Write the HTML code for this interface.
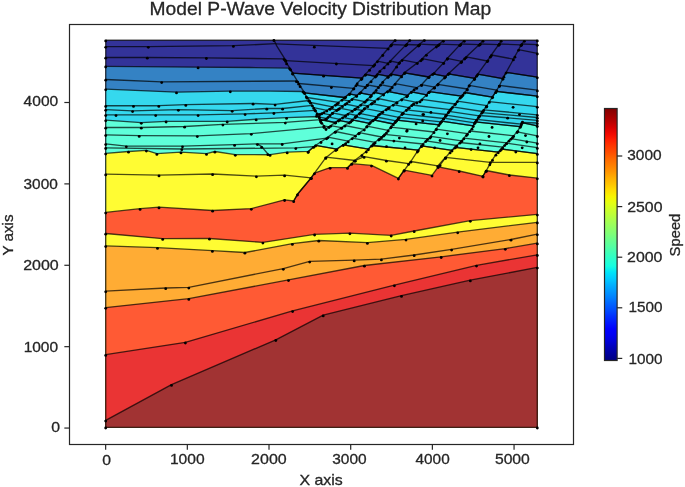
<!DOCTYPE html><html><head><meta charset="utf-8"><style>html,body{margin:0;padding:0;background:#fff;width:685px;height:487px;overflow:hidden}</style></head><body><svg width="685" height="487" viewBox="0 0 685 487" style="position:absolute;left:0;top:0"><defs><linearGradient id="jet" x1="0" y1="0" x2="0" y2="1"><stop offset="0.0000" stop-color="#800000"/><stop offset="0.0250" stop-color="#9b0000"/><stop offset="0.0500" stop-color="#b60000"/><stop offset="0.0750" stop-color="#d60000"/><stop offset="0.1000" stop-color="#f10800"/><stop offset="0.1250" stop-color="#ff1e00"/><stop offset="0.1500" stop-color="#ff3800"/><stop offset="0.1750" stop-color="#ff4e00"/><stop offset="0.2000" stop-color="#ff6800"/><stop offset="0.2250" stop-color="#ff7e00"/><stop offset="0.2500" stop-color="#ff9400"/><stop offset="0.2750" stop-color="#ffae00"/><stop offset="0.3000" stop-color="#ffc400"/><stop offset="0.3250" stop-color="#ffde00"/><stop offset="0.3500" stop-color="#f8f500"/><stop offset="0.3750" stop-color="#e4ff13"/><stop offset="0.4000" stop-color="#ceff29"/><stop offset="0.4250" stop-color="#baff3c"/><stop offset="0.4500" stop-color="#a4ff53"/><stop offset="0.4750" stop-color="#90ff66"/><stop offset="0.5000" stop-color="#7dff7a"/><stop offset="0.5250" stop-color="#66ff90"/><stop offset="0.5500" stop-color="#53ffa4"/><stop offset="0.5750" stop-color="#3cffba"/><stop offset="0.6000" stop-color="#29ffce"/><stop offset="0.6250" stop-color="#16ffe1"/><stop offset="0.6500" stop-color="#00e4f8"/><stop offset="0.6750" stop-color="#00ccff"/><stop offset="0.7000" stop-color="#00b0ff"/><stop offset="0.7250" stop-color="#0098ff"/><stop offset="0.7500" stop-color="#0080ff"/><stop offset="0.7750" stop-color="#0064ff"/><stop offset="0.8000" stop-color="#004cff"/><stop offset="0.8250" stop-color="#0030ff"/><stop offset="0.8500" stop-color="#0018ff"/><stop offset="0.8750" stop-color="#0000ff"/><stop offset="0.9000" stop-color="#0000f1"/><stop offset="0.9250" stop-color="#0000d6"/><stop offset="0.9500" stop-color="#0000b6"/><stop offset="0.9750" stop-color="#00009b"/><stop offset="1.0000" stop-color="#000080"/></linearGradient></defs><g transform="translate(0,-0.7)"><polygon points="105.7,40.9 537.3,40.9 537.3,428.0 105.7,428.0" fill="#333399"/><polygon points="105.7,67.0 198.1,67.9 250.0,68.2 289.6,68.8 292.7,73.9 362.0,78.8 365.4,75.1 375.4,77.1 377.3,74.8 388.4,77.0 391.1,74.8 401.6,76.9 404.6,73.5 428.7,77.7 432.8,74.6 445.6,77.1 448.3,74.5 474.8,79.0 477.7,74.8 502.9,79.3 506.1,73.1 537.3,77.8 537.3,428.0 105.7,428.0" fill="#3482c4"/><polygon points="105.7,89.8 176.5,92.9 230.3,91.8 270.0,91.8 303.2,92.2 304.5,93.5 344.5,98.2 349.3,94.6 356.8,96.1 359.8,93.6 371.4,95.9 374.0,93.1 383.6,95.0 387.5,92.0 407.6,96.1 411.4,92.5 426.6,95.5 429.3,92.3 461.5,96.9 464.6,93.2 492.3,97.8 496.1,92.1 537.3,96.8 537.3,428.0 105.7,428.0" fill="#35d8ee"/><polygon points="105.7,120.8 141.3,123.3 166.1,122.0 227.2,122.0 256.2,119.9 286.6,118.4 319.2,117.2 320.3,120.3 335.2,123.2 338.5,121.0 349.2,123.1 352.2,120.6 369.4,124.0 373.3,120.6 393.4,124.7 396.6,120.9 438.9,125.6 441.5,121.9 473.3,126.5 475.2,122.6 520.2,127.4 521.9,123.4 537.3,126.5 537.3,428.0 105.7,428.0" fill="#5fffda"/><polygon points="105.7,154.1 128.5,152.2 146.4,151.1 156.9,154.4 181.0,152.9 206.5,154.4 214.9,152.2 235.3,155.3 270.1,155.4 287.2,152.9 308.3,152.1 315.6,146.0 336.9,149.8 343.2,145.5 368.4,149.8 371.7,146.2 418.3,150.8 421.6,146.5 452.0,151.0 454.9,148.1 498.3,152.8 501.3,149.7 537.3,154.4 537.3,428.0 105.7,428.0" fill="#fffc33"/><polygon points="105.7,213.1 140.1,209.4 159.0,207.9 212.6,211.2 251.3,209.3 284.6,200.5 293.7,201.7 297.5,195.0 311.2,178.6 314.5,173.8 330.1,168.3 347.5,168.4 351.7,164.4 371.5,166.1 398.4,179.1 404.1,170.8 432.0,176.1 438.2,167.5 459.2,171.7 483.0,177.0 486.1,171.2 509.4,175.7 537.3,178.8 537.3,428.0 105.7,428.0" fill="#ff5a34"/><polygon points="105.7,234.2 162.7,239.4 209.5,239.2 262.9,243.1 314.6,235.0 349.9,233.8 391.2,236.0 414.2,231.7 470.3,221.3 537.3,215.1 537.3,428.0 105.7,428.0" fill="#fffc33"/><polygon points="105.7,246.6 157.5,248.4 212.4,251.4 244.9,253.2 292.4,244.4 318.8,241.2 367.4,243.4 406.0,240.1 457.7,232.8 537.3,223.0 537.3,428.0 105.7,428.0" fill="#ffac34"/><polygon points="105.7,308.3 188.8,299.4 288.5,280.6 364.4,266.2 441.2,257.5 505.3,249.3 537.3,243.9 537.3,428.0 105.7,428.0" fill="#ff5a34"/><polygon points="105.7,355.4 185.4,343.0 292.6,311.6 394.4,285.8 476.5,266.1 537.3,255.5 537.3,428.0 105.7,428.0" fill="#ea3434"/><polygon points="105.7,421.1 171.5,385.4 275.8,340.5 323.2,315.9 401.5,296.4 470.3,280.9 537.3,268.1 537.3,428.0 105.7,428.0" fill="#a13333"/><g fill="none" stroke="#000" stroke-opacity="0.7" stroke-width="1.35" stroke-linejoin="round"><polyline points="105.7,40.9 537.3,40.9"/><polyline points="105.7,67.0 198.1,67.9 250.0,68.2 289.6,68.8 292.7,73.9 362.0,78.8 365.4,75.1 375.4,77.1 377.3,74.8 388.4,77.0 391.1,74.8 401.6,76.9 404.6,73.5 428.7,77.7 432.8,74.6 445.6,77.1 448.3,74.5 474.8,79.0 477.7,74.8 502.9,79.3 506.1,73.1 537.3,77.8"/><polyline points="105.7,89.8 176.5,92.9 230.3,91.8 270.0,91.8 303.2,92.2 304.5,93.5 344.5,98.2 349.3,94.6 356.8,96.1 359.8,93.6 371.4,95.9 374.0,93.1 383.6,95.0 387.5,92.0 407.6,96.1 411.4,92.5 426.6,95.5 429.3,92.3 461.5,96.9 464.6,93.2 492.3,97.8 496.1,92.1 537.3,96.8"/><polyline points="105.7,120.8 141.3,123.3 166.1,122.0 227.2,122.0 256.2,119.9 286.6,118.4 319.2,117.2 320.3,120.3 335.2,123.2 338.5,121.0 349.2,123.1 352.2,120.6 369.4,124.0 373.3,120.6 393.4,124.7 396.6,120.9 438.9,125.6 441.5,121.9 473.3,126.5 475.2,122.6 520.2,127.4 521.9,123.4 537.3,126.5"/><polyline points="105.7,154.1 128.5,152.2 146.4,151.1 156.9,154.4 181.0,152.9 206.5,154.4 214.9,152.2 235.3,155.3 270.1,155.4 287.2,152.9 308.3,152.1 315.6,146.0 336.9,149.8 343.2,145.5 368.4,149.8 371.7,146.2 418.3,150.8 421.6,146.5 452.0,151.0 454.9,148.1 498.3,152.8 501.3,149.7 537.3,154.4"/><polyline points="105.7,213.1 140.1,209.4 159.0,207.9 212.6,211.2 251.3,209.3 284.6,200.5 293.7,201.7 297.5,195.0 311.2,178.6 314.5,173.8 330.1,168.3 347.5,168.4 351.7,164.4 371.5,166.1 398.4,179.1 404.1,170.8 432.0,176.1 438.2,167.5 459.2,171.7 483.0,177.0 486.1,171.2 509.4,175.7 537.3,178.8"/><polyline points="105.7,234.2 162.7,239.4 209.5,239.2 262.9,243.1 314.6,235.0 349.9,233.8 391.2,236.0 414.2,231.7 470.3,221.3 537.3,215.1"/><polyline points="105.7,246.6 157.5,248.4 212.4,251.4 244.9,253.2 292.4,244.4 318.8,241.2 367.4,243.4 406.0,240.1 457.7,232.8 537.3,223.0"/><polyline points="105.7,308.3 188.8,299.4 288.5,280.6 364.4,266.2 441.2,257.5 505.3,249.3 537.3,243.9"/><polyline points="105.7,355.4 185.4,343.0 292.6,311.6 394.4,285.8 476.5,266.1 537.3,255.5"/><polyline points="105.7,421.1 171.5,385.4 275.8,340.5 323.2,315.9 401.5,296.4 470.3,280.9 537.3,268.1"/><polyline points="105.7,291.8 165.7,288.7 188.8,288.1 283.3,269.3 309.7,262.1 354.2,260.9 381.4,259.9 414.2,255.7 451.6,250.1 511.0,240.2 537.3,234.8"/><polyline points="105.7,174.9 159.0,175.9 212.6,174.7 256.4,176.8 284.6,175.9 311.2,178.5"/><polyline points="325.8,157.8 355.3,161.2 364.1,157.4 386.4,161.2 408.6,164.4 410.8,162.2 437.8,166.6 445.5,158.0 490.3,163.0 537.3,163.0"/><polyline points="105.7,47.3 148.3,47.3 233.4,46.4 275.5,44.4"/><polyline points="105.7,58.2 147.3,58.2 206.4,58.5 284.1,59.6"/><polyline points="105.7,80.2 161.7,82.6 296.4,81.7"/><polyline points="105.7,106.4 133.5,106.4 158.8,106.4 185.8,105.4 253.1,104.2 275.1,105.1 309.0,101.2"/><polyline points="105.7,110.3 132.6,111.6 178.4,110.3 232.2,111.3 266.8,109.2 282.6,109.2 312.4,106.1"/><polyline points="105.7,115.6 116.0,115.6 155.7,115.6 198.1,115.6 245.1,114.6 273.9,113.5 315.5,111.0"/><polyline points="105.7,128.2 141.3,128.2 184.6,127.2 222.9,125.1 285.3,123.1 321.0,120.3"/><polyline points="105.7,135.6 139.2,136.4 197.3,136.6 251.3,134.3 324.0,127.6"/><polyline points="105.7,144.6 126.3,146.8 182.5,146.8 234.6,145.4 257.4,144.6 282.2,144.5 326.6,138.8"/><polyline points="257.4,144.6 261.7,147.3 267.9,154.7"/><polyline points="105.7,148.5 181.8,149.7 295.8,148.6 313.6,147.4"/><polyline points="273.9,40.5 276.7,46.6 285.3,60.4 286.6,63.9 290.6,70.0 292.7,74.0 297.6,82.1 300.1,86.7 304.2,92.8 306.3,97.1 309.4,101.2 312.4,106.1 314.9,110.4 319.2,117.8 321.7,123.3 326.0,129.6"/><polyline points="395.2,40.6 390.8,46.0 382.8,55.5 374.7,65.0 369.6,70.4 365.3,75.2 361.3,79.6 357.2,84.0 353.9,88.8 349.9,94.2 345.6,97.4 337.0,104.2 330.2,109.1 324.0,112.8 316.5,116.3"/><polyline points="409.8,40.6 406.9,44.6 384.2,67.9 379.9,71.6 376.2,76.2 371.1,81.8 367.4,85.4 360.9,92.7 356.5,96.4 346.8,103.6 338.2,109.7 332.6,113.4 325.9,119.6 320.5,121.8"/><polyline points="424.4,40.6 418.5,46.0 399.6,62.8 396.6,67.2 390.8,75.2 387.9,77.4 382.8,82.5 376.2,90.6 370.4,97.1 365.4,101.8 355.5,109.2 345.7,116.0 335.8,122.8 326.0,129.6"/><polyline points="443.4,41.3 436.4,47.1 426.4,55.3 420.9,60.8 405.0,73.0 390.2,90.0 372.3,103.6 364.3,109.1 360.5,112.9 355.5,117.3 350.6,122.2 342.0,128.1 335.2,132.3 326.6,138.8 321.0,142.5 313.6,147.4 308.1,152.4"/><polyline points="464.3,41.3 460.1,45.3 447.4,59.0 443.7,63.5 434.2,73.6 429.1,77.2 421.5,85.4 414.2,90.0 406.8,96.8 397.0,102.9 388.3,108.5 382.8,112.2 378.5,115.3 375.4,119.0 370.5,122.7 366.8,127.0 364.3,130.1 358.6,133.9 345.7,143.8 335.8,150.5 325.8,158.4 314.5,173.8 311.0,178.7 297.5,195.0 293.7,201.7"/><polyline points="483.0,41.3 480.2,44.4 464.7,59.0 461.1,62.6 449.2,73.6 444.6,78.1 438.2,84.5 434.2,88.2 428.8,92.7 426.6,95.5 420.0,101.9 413.6,104.2 409.3,107.9 402.5,114.0 398.2,119.0 395.1,122.7 391.4,127.0 386.5,133.1 383.4,136.2 379.7,139.3 373.6,144.2 366.3,152.0 361.9,155.7 354.6,161.2 347.5,168.4"/><polyline points="501.2,41.3 499.4,44.4 490.3,57.2 487.9,60.8 476.6,76.3 474.4,79.6 469.3,85.8 467.1,90.0 462.9,95.5 460.1,98.2 455.6,104.1 451.0,109.2 448.3,112.8 445.5,116.5 440.1,123.7 436.4,129.4 430.0,138.1 427.6,139.6 421.8,146.2 417.4,152.0 410.8,162.2 404.2,171.0 398.4,179.1"/><polyline points="524.4,41.3 521.3,45.3 514.9,57.2 503.9,77.2 499.4,86.4 495.7,92.7 492.6,97.3 486.3,107.2 482.9,111.6 478.5,117.7 475.0,122.9 472.0,129.2 466.5,135.6 462.0,141.1 455.6,147.4 450.1,152.9 445.5,158.4 440.1,165.7 438.2,167.5"/><polyline points="522.5,122.1 520.7,126.4 517.8,131.6 512.5,137.8 509.0,141.2 504.7,145.6 500.3,150.8 495.9,155.2 492.5,160.4 489.8,164.8 486.3,171.4 482.9,176.7"/><polyline points="275.8,44.6 388.2,49.1"/><polyline points="391.4,45.2 405.7,45.8"/><polyline points="406.3,45.2 418.9,45.7"/><polyline points="419.6,44.9 438.1,45.7"/><polyline points="439.2,44.8 459.8,45.6"/><polyline points="460.7,44.7 479.1,45.4"/><polyline points="479.9,44.7 498.7,45.4"/><polyline points="499.2,44.7 521.1,45.6"/><polyline points="521.8,44.7 537.3,45.3"/><polyline points="285.7,61.4 373.5,66.3"/><polyline points="377.4,61.8 388.0,64.0"/><polyline points="390.3,61.7 399.1,63.5"/><polyline points="402.1,60.6 417.3,63.6"/><polyline points="422.3,59.4 443.7,63.5"/><polyline points="447.3,59.1 461.7,62.0"/><polyline points="466.2,57.6 487.3,61.7"/><polyline points="491.4,55.7 513.4,59.9"/><polyline points="518.6,50.3 537.3,54.0"/><polyline points="292.7,73.9 362.0,78.8"/><polyline points="365.4,75.1 375.4,77.1"/><polyline points="377.3,74.8 388.4,77.0"/><polyline points="391.1,74.8 401.6,76.9"/><polyline points="404.6,73.5 428.7,77.7"/><polyline points="432.8,74.6 445.6,77.1"/><polyline points="448.3,74.5 474.8,79.0"/><polyline points="477.7,74.8 502.9,79.3"/><polyline points="506.1,73.1 537.3,77.8"/><polyline points="298.7,84.2 353.7,89.1"/><polyline points="356.0,85.8 365.4,87.7"/><polyline points="367.3,85.5 378.5,87.7"/><polyline points="380.5,85.3 392.2,87.7"/><polyline points="395.1,84.4 416.7,88.4"/><polyline points="421.6,85.3 434.6,87.9"/><polyline points="437.6,85.1 467.3,89.7"/><polyline points="469.1,86.1 496.8,90.8"/><polyline points="499.5,86.1 537.3,90.9"/><polyline points="304.5,93.5 344.5,98.2"/><polyline points="349.3,94.6 356.8,96.1"/><polyline points="359.8,93.6 371.4,95.9"/><polyline points="374.0,93.1 383.6,95.0"/><polyline points="387.5,92.0 407.6,96.1"/><polyline points="411.4,92.5 426.6,95.5"/><polyline points="429.3,92.3 461.5,96.9"/><polyline points="464.6,93.2 492.3,97.8"/><polyline points="496.1,92.1 537.3,96.8"/><polyline points="307.1,98.2 338.4,103.1"/><polyline points="342.0,100.3 349.3,101.7"/><polyline points="352.0,99.7 364.7,102.3"/><polyline points="367.1,100.2 374.7,101.8"/><polyline points="378.0,99.2 396.8,103.0"/><polyline points="401.7,100.0 416.9,103.0"/><polyline points="421.8,100.1 455.0,104.7"/><polyline points="457.4,101.8 486.8,106.4"/><polyline points="489.3,102.4 537.3,107.3"/><polyline points="310.6,103.2 332.4,107.5"/><polyline points="335.5,105.3 342.5,106.7"/><polyline points="345.2,104.7 358.1,107.3"/><polyline points="360.7,105.3 367.8,106.7"/><polyline points="371.4,104.2 389.3,107.8"/><polyline points="393.2,105.3 408.7,108.4"/><polyline points="411.8,105.7 450.1,110.4"/><polyline points="452.5,107.6 482.5,112.2"/><polyline points="483.7,110.5 537.3,115.5"/><polyline points="313.7,108.4 326.9,111.1"/><polyline points="329.8,109.3 336.7,110.7"/><polyline points="339.4,108.9 352.3,111.4"/><polyline points="354.7,109.7 362.2,111.2"/><polyline points="364.4,109.0 382.3,112.6"/><polyline points="386.2,109.9 403.3,113.3"/><polyline points="406.4,110.5 446.5,115.2"/><polyline points="448.9,112.0 479.3,116.6"/><polyline points="481.7,113.3 537.3,118.2"/><polyline points="317.1,114.2 319.8,114.7"/><polyline points="321.7,113.9 330.2,115.6"/><polyline points="332.3,113.6 345.3,116.2"/><polyline points="347.9,114.4 356.7,116.2"/><polyline points="359.3,114.0 376.7,117.5"/><polyline points="379.9,114.3 398.9,118.1"/><polyline points="402.0,114.5 443.5,119.2"/><polyline points="446.0,115.9 476.6,120.5"/><polyline points="479.6,116.2 537.3,121.0"/><polyline points="319.2,117.8 326.3,119.2"/><polyline points="328.0,117.6 339.9,120.0"/><polyline points="342.6,118.1 352.7,120.1"/><polyline points="355.3,117.5 372.7,121.0"/><polyline points="376.5,117.7 396.0,121.6"/><polyline points="399.1,118.0 440.9,122.6"/><polyline points="443.7,118.9 474.7,123.6"/><polyline points="476.9,120.1 521.3,124.9"/><polyline points="522.0,123.2 537.3,123.7"/><polyline points="320.3,120.3 335.2,123.2"/><polyline points="338.5,121.0 349.2,123.1"/><polyline points="352.2,120.6 369.4,124.0"/><polyline points="373.3,120.6 393.4,124.7"/><polyline points="396.6,120.9 438.9,125.6"/><polyline points="441.5,121.9 473.3,126.5"/><polyline points="475.2,122.6 520.2,127.4"/><polyline points="521.9,123.4 537.3,126.5"/><polyline points="323.9,126.5 329.0,127.5"/><polyline points="330.7,126.3 341.4,128.4"/><polyline points="344.8,126.2 364.3,130.1"/><polyline points="367.0,126.8 388.2,131.0"/><polyline points="390.7,127.9 434.0,132.7"/><polyline points="436.1,129.8 467.5,134.4"/><polyline points="469.8,131.7 513.6,136.5"/><polyline points="517.1,132.5 537.3,136.5"/><polyline points="335.3,132.2 355.5,136.3"/><polyline points="359.3,133.4 381.6,137.7"/><polyline points="384.6,135.0 427.6,139.6"/><polyline points="430.8,137.0 461.5,141.6"/><polyline points="463.8,138.9 506.6,143.6"/><polyline points="510.9,139.3 537.3,143.8"/><polyline points="327.9,137.8 348.2,141.9"/><polyline points="352.2,138.8 375.1,143.0"/><polyline points="378.8,140.0 423.1,144.7"/><polyline points="425.8,141.6 456.8,146.2"/><polyline points="459.9,143.2 502.7,147.9"/><polyline points="506.5,143.8 537.3,148.4"/><polyline points="315.6,146.0 336.9,149.8"/><polyline points="343.2,145.5 368.4,149.8"/><polyline points="371.7,146.2 418.3,150.8"/><polyline points="421.6,146.5 452.0,151.0"/><polyline points="454.9,148.1 498.3,152.8"/><polyline points="501.3,149.7 537.3,154.4"/><polyline points="105.7,428.0 537.3,428.0"/><polyline points="105.7,40.9 105.7,428.0"/><polyline points="537.3,40.9 537.3,428.0"/></g></g><g fill="#000"><circle cx="105.7" cy="40.9" r="1.42"/><circle cx="537.3" cy="40.9" r="1.42"/><circle cx="105.7" cy="67.0" r="1.42"/><circle cx="198.1" cy="67.9" r="1.42"/><circle cx="289.6" cy="68.8" r="1.42"/><circle cx="292.7" cy="73.9" r="1.42"/><circle cx="362.0" cy="78.8" r="1.42"/><circle cx="365.4" cy="75.1" r="1.42"/><circle cx="375.4" cy="77.1" r="1.42"/><circle cx="377.3" cy="74.8" r="1.42"/><circle cx="388.4" cy="77.0" r="1.42"/><circle cx="391.1" cy="74.8" r="1.42"/><circle cx="401.6" cy="76.9" r="1.42"/><circle cx="404.6" cy="73.5" r="1.42"/><circle cx="428.7" cy="77.7" r="1.42"/><circle cx="432.8" cy="74.6" r="1.42"/><circle cx="445.6" cy="77.1" r="1.42"/><circle cx="448.3" cy="74.5" r="1.42"/><circle cx="474.8" cy="79.0" r="1.42"/><circle cx="477.7" cy="74.8" r="1.42"/><circle cx="502.9" cy="79.3" r="1.42"/><circle cx="506.1" cy="73.1" r="1.42"/><circle cx="537.3" cy="77.8" r="1.42"/><circle cx="105.7" cy="89.8" r="1.42"/><circle cx="176.5" cy="92.9" r="1.42"/><circle cx="230.3" cy="91.8" r="1.42"/><circle cx="303.2" cy="92.2" r="1.42"/><circle cx="304.5" cy="93.5" r="1.42"/><circle cx="344.5" cy="98.2" r="1.42"/><circle cx="349.3" cy="94.6" r="1.42"/><circle cx="356.8" cy="96.1" r="1.42"/><circle cx="359.8" cy="93.6" r="1.42"/><circle cx="371.4" cy="95.9" r="1.42"/><circle cx="374.0" cy="93.1" r="1.42"/><circle cx="383.6" cy="95.0" r="1.42"/><circle cx="387.5" cy="92.0" r="1.42"/><circle cx="407.6" cy="96.1" r="1.42"/><circle cx="411.4" cy="92.5" r="1.42"/><circle cx="426.6" cy="95.5" r="1.42"/><circle cx="429.3" cy="92.3" r="1.42"/><circle cx="461.5" cy="96.9" r="1.42"/><circle cx="464.6" cy="93.2" r="1.42"/><circle cx="492.3" cy="97.8" r="1.42"/><circle cx="496.1" cy="92.1" r="1.42"/><circle cx="537.3" cy="96.8" r="1.42"/><circle cx="105.7" cy="120.8" r="1.42"/><circle cx="141.3" cy="123.3" r="1.42"/><circle cx="166.1" cy="122.0" r="1.42"/><circle cx="227.2" cy="122.0" r="1.42"/><circle cx="256.2" cy="119.9" r="1.42"/><circle cx="286.6" cy="118.4" r="1.42"/><circle cx="319.2" cy="117.2" r="1.42"/><circle cx="320.3" cy="120.3" r="1.42"/><circle cx="335.2" cy="123.2" r="1.42"/><circle cx="338.5" cy="121.0" r="1.42"/><circle cx="349.2" cy="123.1" r="1.42"/><circle cx="352.2" cy="120.6" r="1.42"/><circle cx="369.4" cy="124.0" r="1.42"/><circle cx="373.3" cy="120.6" r="1.42"/><circle cx="393.4" cy="124.7" r="1.42"/><circle cx="396.6" cy="120.9" r="1.42"/><circle cx="438.9" cy="125.6" r="1.42"/><circle cx="441.5" cy="121.9" r="1.42"/><circle cx="473.3" cy="126.5" r="1.42"/><circle cx="475.2" cy="122.6" r="1.42"/><circle cx="520.2" cy="127.4" r="1.42"/><circle cx="521.9" cy="123.4" r="1.42"/><circle cx="537.3" cy="126.5" r="1.42"/><circle cx="105.7" cy="154.1" r="1.42"/><circle cx="128.5" cy="152.2" r="1.42"/><circle cx="146.4" cy="151.1" r="1.42"/><circle cx="156.9" cy="154.4" r="1.42"/><circle cx="181.0" cy="152.9" r="1.42"/><circle cx="206.5" cy="154.4" r="1.42"/><circle cx="214.9" cy="152.2" r="1.42"/><circle cx="235.3" cy="155.3" r="1.42"/><circle cx="270.1" cy="155.4" r="1.42"/><circle cx="287.2" cy="152.9" r="1.42"/><circle cx="308.3" cy="152.1" r="1.42"/><circle cx="315.6" cy="146.0" r="1.42"/><circle cx="336.9" cy="149.8" r="1.42"/><circle cx="343.2" cy="145.5" r="1.42"/><circle cx="368.4" cy="149.8" r="1.42"/><circle cx="371.7" cy="146.2" r="1.42"/><circle cx="418.3" cy="150.8" r="1.42"/><circle cx="421.6" cy="146.5" r="1.42"/><circle cx="452.0" cy="151.0" r="1.42"/><circle cx="454.9" cy="148.1" r="1.42"/><circle cx="498.3" cy="152.8" r="1.42"/><circle cx="501.3" cy="149.7" r="1.42"/><circle cx="537.3" cy="154.4" r="1.42"/><circle cx="105.7" cy="213.1" r="1.42"/><circle cx="140.1" cy="209.4" r="1.42"/><circle cx="159.0" cy="207.9" r="1.42"/><circle cx="212.6" cy="211.2" r="1.42"/><circle cx="251.3" cy="209.3" r="1.42"/><circle cx="284.6" cy="200.5" r="1.42"/><circle cx="293.7" cy="201.7" r="1.42"/><circle cx="297.5" cy="195.0" r="1.42"/><circle cx="311.2" cy="178.6" r="1.42"/><circle cx="314.5" cy="173.8" r="1.42"/><circle cx="330.1" cy="168.3" r="1.42"/><circle cx="347.5" cy="168.4" r="1.42"/><circle cx="351.7" cy="164.4" r="1.42"/><circle cx="371.5" cy="166.1" r="1.42"/><circle cx="398.4" cy="179.1" r="1.42"/><circle cx="404.1" cy="170.8" r="1.42"/><circle cx="432.0" cy="176.1" r="1.42"/><circle cx="438.2" cy="167.5" r="1.42"/><circle cx="459.2" cy="171.7" r="1.42"/><circle cx="483.0" cy="177.0" r="1.42"/><circle cx="486.1" cy="171.2" r="1.42"/><circle cx="509.4" cy="175.7" r="1.42"/><circle cx="537.3" cy="178.8" r="1.42"/><circle cx="105.7" cy="234.2" r="1.42"/><circle cx="162.7" cy="239.4" r="1.42"/><circle cx="209.5" cy="239.2" r="1.42"/><circle cx="262.9" cy="243.1" r="1.42"/><circle cx="314.6" cy="235.0" r="1.42"/><circle cx="349.9" cy="233.8" r="1.42"/><circle cx="391.2" cy="236.0" r="1.42"/><circle cx="414.2" cy="231.7" r="1.42"/><circle cx="470.3" cy="221.3" r="1.42"/><circle cx="537.3" cy="215.1" r="1.42"/><circle cx="105.7" cy="246.6" r="1.42"/><circle cx="157.5" cy="248.4" r="1.42"/><circle cx="212.4" cy="251.4" r="1.42"/><circle cx="244.9" cy="253.2" r="1.42"/><circle cx="292.4" cy="244.4" r="1.42"/><circle cx="318.8" cy="241.2" r="1.42"/><circle cx="367.4" cy="243.4" r="1.42"/><circle cx="406.0" cy="240.1" r="1.42"/><circle cx="457.7" cy="232.8" r="1.42"/><circle cx="537.3" cy="223.0" r="1.42"/><circle cx="105.7" cy="308.3" r="1.42"/><circle cx="188.8" cy="299.4" r="1.42"/><circle cx="288.5" cy="280.6" r="1.42"/><circle cx="364.4" cy="266.2" r="1.42"/><circle cx="441.2" cy="257.5" r="1.42"/><circle cx="505.3" cy="249.3" r="1.42"/><circle cx="537.3" cy="243.9" r="1.42"/><circle cx="105.7" cy="355.4" r="1.42"/><circle cx="185.4" cy="343.0" r="1.42"/><circle cx="292.6" cy="311.6" r="1.42"/><circle cx="394.4" cy="285.8" r="1.42"/><circle cx="476.5" cy="266.1" r="1.42"/><circle cx="537.3" cy="255.5" r="1.42"/><circle cx="105.7" cy="421.1" r="1.42"/><circle cx="171.5" cy="385.4" r="1.42"/><circle cx="275.8" cy="340.5" r="1.42"/><circle cx="323.2" cy="315.9" r="1.42"/><circle cx="401.5" cy="296.4" r="1.42"/><circle cx="470.3" cy="280.9" r="1.42"/><circle cx="537.3" cy="268.1" r="1.42"/><circle cx="105.7" cy="291.8" r="1.42"/><circle cx="165.7" cy="288.7" r="1.42"/><circle cx="188.8" cy="288.1" r="1.42"/><circle cx="283.3" cy="269.3" r="1.42"/><circle cx="309.7" cy="262.1" r="1.42"/><circle cx="354.2" cy="260.9" r="1.42"/><circle cx="381.4" cy="259.9" r="1.42"/><circle cx="414.2" cy="255.7" r="1.42"/><circle cx="451.6" cy="250.1" r="1.42"/><circle cx="511.0" cy="240.2" r="1.42"/><circle cx="537.3" cy="234.8" r="1.42"/><circle cx="105.7" cy="174.9" r="1.42"/><circle cx="159.0" cy="175.9" r="1.42"/><circle cx="212.6" cy="174.7" r="1.42"/><circle cx="256.4" cy="176.8" r="1.42"/><circle cx="284.6" cy="175.9" r="1.42"/><circle cx="311.2" cy="178.5" r="1.42"/><circle cx="325.8" cy="157.8" r="1.42"/><circle cx="355.3" cy="161.2" r="1.42"/><circle cx="364.1" cy="157.4" r="1.42"/><circle cx="386.4" cy="161.2" r="1.42"/><circle cx="408.6" cy="164.4" r="1.42"/><circle cx="410.8" cy="162.2" r="1.42"/><circle cx="437.8" cy="166.6" r="1.42"/><circle cx="445.5" cy="158.0" r="1.42"/><circle cx="490.3" cy="163.0" r="1.42"/><circle cx="537.3" cy="163.0" r="1.42"/><circle cx="105.7" cy="47.3" r="1.42"/><circle cx="148.3" cy="47.3" r="1.42"/><circle cx="233.4" cy="46.4" r="1.42"/><circle cx="105.7" cy="58.2" r="1.42"/><circle cx="147.3" cy="58.2" r="1.42"/><circle cx="206.4" cy="58.5" r="1.42"/><circle cx="284.1" cy="59.6" r="1.42"/><circle cx="105.7" cy="80.2" r="1.42"/><circle cx="161.7" cy="82.6" r="1.42"/><circle cx="296.4" cy="81.7" r="1.42"/><circle cx="105.7" cy="106.4" r="1.42"/><circle cx="133.5" cy="106.4" r="1.42"/><circle cx="158.8" cy="106.4" r="1.42"/><circle cx="185.8" cy="105.4" r="1.42"/><circle cx="253.1" cy="104.2" r="1.42"/><circle cx="275.1" cy="105.1" r="1.42"/><circle cx="309.0" cy="101.2" r="1.42"/><circle cx="105.7" cy="110.3" r="1.42"/><circle cx="132.6" cy="111.6" r="1.42"/><circle cx="178.4" cy="110.3" r="1.42"/><circle cx="232.2" cy="111.3" r="1.42"/><circle cx="266.8" cy="109.2" r="1.42"/><circle cx="282.6" cy="109.2" r="1.42"/><circle cx="312.4" cy="106.1" r="1.42"/><circle cx="105.7" cy="115.6" r="1.42"/><circle cx="116.0" cy="115.6" r="1.42"/><circle cx="155.7" cy="115.6" r="1.42"/><circle cx="198.1" cy="115.6" r="1.42"/><circle cx="245.1" cy="114.6" r="1.42"/><circle cx="273.9" cy="113.5" r="1.42"/><circle cx="315.5" cy="111.0" r="1.42"/><circle cx="105.7" cy="128.2" r="1.42"/><circle cx="141.3" cy="128.2" r="1.42"/><circle cx="184.6" cy="127.2" r="1.42"/><circle cx="222.9" cy="125.1" r="1.42"/><circle cx="285.3" cy="123.1" r="1.42"/><circle cx="321.0" cy="120.3" r="1.42"/><circle cx="105.7" cy="135.6" r="1.42"/><circle cx="139.2" cy="136.4" r="1.42"/><circle cx="197.3" cy="136.6" r="1.42"/><circle cx="251.3" cy="134.3" r="1.42"/><circle cx="324.0" cy="127.6" r="1.42"/><circle cx="105.7" cy="144.6" r="1.42"/><circle cx="126.3" cy="146.8" r="1.42"/><circle cx="182.5" cy="146.8" r="1.42"/><circle cx="234.6" cy="145.4" r="1.42"/><circle cx="257.4" cy="144.6" r="1.42"/><circle cx="282.2" cy="144.5" r="1.42"/><circle cx="326.6" cy="138.8" r="1.42"/><circle cx="261.7" cy="147.3" r="1.42"/><circle cx="267.9" cy="154.7" r="1.42"/><circle cx="105.7" cy="148.5" r="1.42"/><circle cx="181.8" cy="149.7" r="1.42"/><circle cx="295.8" cy="148.6" r="1.42"/><circle cx="313.6" cy="147.4" r="1.42"/><circle cx="273.9" cy="40.5" r="1.42"/><circle cx="285.3" cy="60.4" r="1.42"/><circle cx="286.6" cy="63.9" r="1.42"/><circle cx="290.6" cy="70.0" r="1.42"/><circle cx="292.7" cy="74.0" r="1.42"/><circle cx="297.6" cy="82.1" r="1.42"/><circle cx="300.1" cy="86.7" r="1.42"/><circle cx="304.2" cy="92.8" r="1.42"/><circle cx="306.3" cy="97.1" r="1.42"/><circle cx="309.4" cy="101.2" r="1.42"/><circle cx="314.9" cy="110.4" r="1.42"/><circle cx="319.2" cy="117.8" r="1.42"/><circle cx="321.7" cy="123.3" r="1.42"/><circle cx="326.0" cy="129.6" r="1.42"/><circle cx="395.2" cy="40.6" r="1.42"/><circle cx="390.8" cy="46.0" r="1.42"/><circle cx="382.8" cy="55.5" r="1.42"/><circle cx="374.7" cy="65.0" r="1.42"/><circle cx="369.6" cy="70.4" r="1.42"/><circle cx="365.3" cy="75.2" r="1.42"/><circle cx="361.3" cy="79.6" r="1.42"/><circle cx="357.2" cy="84.0" r="1.42"/><circle cx="353.9" cy="88.8" r="1.42"/><circle cx="349.9" cy="94.2" r="1.42"/><circle cx="345.6" cy="97.4" r="1.42"/><circle cx="337.0" cy="104.2" r="1.42"/><circle cx="330.2" cy="109.1" r="1.42"/><circle cx="324.0" cy="112.8" r="1.42"/><circle cx="316.5" cy="116.3" r="1.42"/><circle cx="409.8" cy="40.6" r="1.42"/><circle cx="406.9" cy="44.6" r="1.42"/><circle cx="384.2" cy="67.9" r="1.42"/><circle cx="379.9" cy="71.6" r="1.42"/><circle cx="376.2" cy="76.2" r="1.42"/><circle cx="371.1" cy="81.8" r="1.42"/><circle cx="367.4" cy="85.4" r="1.42"/><circle cx="360.9" cy="92.7" r="1.42"/><circle cx="356.5" cy="96.4" r="1.42"/><circle cx="346.8" cy="103.6" r="1.42"/><circle cx="338.2" cy="109.7" r="1.42"/><circle cx="332.6" cy="113.4" r="1.42"/><circle cx="325.9" cy="119.6" r="1.42"/><circle cx="320.5" cy="121.8" r="1.42"/><circle cx="424.4" cy="40.6" r="1.42"/><circle cx="418.5" cy="46.0" r="1.42"/><circle cx="399.6" cy="62.8" r="1.42"/><circle cx="396.6" cy="67.2" r="1.42"/><circle cx="390.8" cy="75.2" r="1.42"/><circle cx="387.9" cy="77.4" r="1.42"/><circle cx="382.8" cy="82.5" r="1.42"/><circle cx="376.2" cy="90.6" r="1.42"/><circle cx="370.4" cy="97.1" r="1.42"/><circle cx="365.4" cy="101.8" r="1.42"/><circle cx="355.5" cy="109.2" r="1.42"/><circle cx="345.7" cy="116.0" r="1.42"/><circle cx="335.8" cy="122.8" r="1.42"/><circle cx="443.4" cy="41.3" r="1.42"/><circle cx="436.4" cy="47.1" r="1.42"/><circle cx="426.4" cy="55.3" r="1.42"/><circle cx="420.9" cy="60.8" r="1.42"/><circle cx="405.0" cy="73.0" r="1.42"/><circle cx="390.2" cy="90.0" r="1.42"/><circle cx="372.3" cy="103.6" r="1.42"/><circle cx="364.3" cy="109.1" r="1.42"/><circle cx="360.5" cy="112.9" r="1.42"/><circle cx="355.5" cy="117.3" r="1.42"/><circle cx="350.6" cy="122.2" r="1.42"/><circle cx="342.0" cy="128.1" r="1.42"/><circle cx="335.2" cy="132.3" r="1.42"/><circle cx="321.0" cy="142.5" r="1.42"/><circle cx="308.1" cy="152.4" r="1.42"/><circle cx="464.3" cy="41.3" r="1.42"/><circle cx="460.1" cy="45.3" r="1.42"/><circle cx="447.4" cy="59.0" r="1.42"/><circle cx="443.7" cy="63.5" r="1.42"/><circle cx="434.2" cy="73.6" r="1.42"/><circle cx="429.1" cy="77.2" r="1.42"/><circle cx="421.5" cy="85.4" r="1.42"/><circle cx="414.2" cy="90.0" r="1.42"/><circle cx="406.8" cy="96.8" r="1.42"/><circle cx="397.0" cy="102.9" r="1.42"/><circle cx="388.3" cy="108.5" r="1.42"/><circle cx="382.8" cy="112.2" r="1.42"/><circle cx="378.5" cy="115.3" r="1.42"/><circle cx="375.4" cy="119.0" r="1.42"/><circle cx="370.5" cy="122.7" r="1.42"/><circle cx="366.8" cy="127.0" r="1.42"/><circle cx="364.3" cy="130.1" r="1.42"/><circle cx="358.6" cy="133.9" r="1.42"/><circle cx="345.7" cy="143.8" r="1.42"/><circle cx="335.8" cy="150.5" r="1.42"/><circle cx="325.8" cy="158.4" r="1.42"/><circle cx="311.0" cy="178.7" r="1.42"/><circle cx="483.0" cy="41.3" r="1.42"/><circle cx="480.2" cy="44.4" r="1.42"/><circle cx="464.7" cy="59.0" r="1.42"/><circle cx="461.1" cy="62.6" r="1.42"/><circle cx="449.2" cy="73.6" r="1.42"/><circle cx="444.6" cy="78.1" r="1.42"/><circle cx="438.2" cy="84.5" r="1.42"/><circle cx="434.2" cy="88.2" r="1.42"/><circle cx="428.8" cy="92.7" r="1.42"/><circle cx="420.0" cy="101.9" r="1.42"/><circle cx="413.6" cy="104.2" r="1.42"/><circle cx="409.3" cy="107.9" r="1.42"/><circle cx="402.5" cy="114.0" r="1.42"/><circle cx="398.2" cy="119.0" r="1.42"/><circle cx="395.1" cy="122.7" r="1.42"/><circle cx="391.4" cy="127.0" r="1.42"/><circle cx="386.5" cy="133.1" r="1.42"/><circle cx="383.4" cy="136.2" r="1.42"/><circle cx="379.7" cy="139.3" r="1.42"/><circle cx="373.6" cy="144.2" r="1.42"/><circle cx="366.3" cy="152.0" r="1.42"/><circle cx="361.9" cy="155.7" r="1.42"/><circle cx="354.6" cy="161.2" r="1.42"/><circle cx="501.2" cy="41.3" r="1.42"/><circle cx="499.4" cy="44.4" r="1.42"/><circle cx="490.3" cy="57.2" r="1.42"/><circle cx="487.9" cy="60.8" r="1.42"/><circle cx="476.6" cy="76.3" r="1.42"/><circle cx="474.4" cy="79.6" r="1.42"/><circle cx="469.3" cy="85.8" r="1.42"/><circle cx="467.1" cy="90.0" r="1.42"/><circle cx="462.9" cy="95.5" r="1.42"/><circle cx="460.1" cy="98.2" r="1.42"/><circle cx="455.6" cy="104.1" r="1.42"/><circle cx="451.0" cy="109.2" r="1.42"/><circle cx="448.3" cy="112.8" r="1.42"/><circle cx="445.5" cy="116.5" r="1.42"/><circle cx="440.1" cy="123.7" r="1.42"/><circle cx="436.4" cy="129.4" r="1.42"/><circle cx="430.0" cy="138.1" r="1.42"/><circle cx="427.6" cy="139.6" r="1.42"/><circle cx="421.8" cy="146.2" r="1.42"/><circle cx="417.4" cy="152.0" r="1.42"/><circle cx="404.2" cy="171.0" r="1.42"/><circle cx="524.4" cy="41.3" r="1.42"/><circle cx="521.3" cy="45.3" r="1.42"/><circle cx="514.9" cy="57.2" r="1.42"/><circle cx="503.9" cy="77.2" r="1.42"/><circle cx="499.4" cy="86.4" r="1.42"/><circle cx="495.7" cy="92.7" r="1.42"/><circle cx="492.6" cy="97.3" r="1.42"/><circle cx="486.3" cy="107.2" r="1.42"/><circle cx="482.9" cy="111.6" r="1.42"/><circle cx="478.5" cy="117.7" r="1.42"/><circle cx="475.0" cy="122.9" r="1.42"/><circle cx="472.0" cy="129.2" r="1.42"/><circle cx="466.5" cy="135.6" r="1.42"/><circle cx="462.0" cy="141.1" r="1.42"/><circle cx="455.6" cy="147.4" r="1.42"/><circle cx="450.1" cy="152.9" r="1.42"/><circle cx="445.5" cy="158.4" r="1.42"/><circle cx="440.1" cy="165.7" r="1.42"/><circle cx="522.5" cy="122.1" r="1.42"/><circle cx="520.7" cy="126.4" r="1.42"/><circle cx="517.8" cy="131.6" r="1.42"/><circle cx="512.5" cy="137.8" r="1.42"/><circle cx="509.0" cy="141.2" r="1.42"/><circle cx="504.7" cy="145.6" r="1.42"/><circle cx="500.3" cy="150.8" r="1.42"/><circle cx="495.9" cy="155.2" r="1.42"/><circle cx="492.5" cy="160.4" r="1.42"/><circle cx="489.8" cy="164.8" r="1.42"/><circle cx="486.3" cy="171.4" r="1.42"/><circle cx="482.9" cy="176.7" r="1.42"/><circle cx="388.2" cy="49.1" r="1.42"/><circle cx="391.4" cy="45.2" r="1.42"/><circle cx="405.7" cy="45.8" r="1.42"/><circle cx="406.3" cy="45.2" r="1.42"/><circle cx="418.9" cy="45.7" r="1.42"/><circle cx="419.6" cy="44.9" r="1.42"/><circle cx="438.1" cy="45.7" r="1.42"/><circle cx="439.2" cy="44.8" r="1.42"/><circle cx="459.8" cy="45.6" r="1.42"/><circle cx="460.7" cy="44.7" r="1.42"/><circle cx="479.1" cy="45.4" r="1.42"/><circle cx="479.9" cy="44.7" r="1.42"/><circle cx="498.7" cy="45.4" r="1.42"/><circle cx="499.2" cy="44.7" r="1.42"/><circle cx="521.1" cy="45.6" r="1.42"/><circle cx="521.8" cy="44.7" r="1.42"/><circle cx="537.3" cy="45.3" r="1.42"/><circle cx="285.7" cy="61.4" r="1.42"/><circle cx="373.5" cy="66.3" r="1.42"/><circle cx="377.4" cy="61.8" r="1.42"/><circle cx="388.0" cy="64.0" r="1.42"/><circle cx="390.3" cy="61.7" r="1.42"/><circle cx="399.1" cy="63.5" r="1.42"/><circle cx="402.1" cy="60.6" r="1.42"/><circle cx="417.3" cy="63.6" r="1.42"/><circle cx="422.3" cy="59.4" r="1.42"/><circle cx="447.3" cy="59.1" r="1.42"/><circle cx="461.7" cy="62.0" r="1.42"/><circle cx="466.2" cy="57.6" r="1.42"/><circle cx="487.3" cy="61.7" r="1.42"/><circle cx="491.4" cy="55.7" r="1.42"/><circle cx="513.4" cy="59.9" r="1.42"/><circle cx="518.6" cy="50.3" r="1.42"/><circle cx="537.3" cy="54.0" r="1.42"/><circle cx="298.7" cy="84.2" r="1.42"/><circle cx="353.7" cy="89.1" r="1.42"/><circle cx="356.0" cy="85.8" r="1.42"/><circle cx="365.4" cy="87.7" r="1.42"/><circle cx="367.3" cy="85.5" r="1.42"/><circle cx="378.5" cy="87.7" r="1.42"/><circle cx="380.5" cy="85.3" r="1.42"/><circle cx="392.2" cy="87.7" r="1.42"/><circle cx="395.1" cy="84.4" r="1.42"/><circle cx="416.7" cy="88.4" r="1.42"/><circle cx="421.6" cy="85.3" r="1.42"/><circle cx="434.6" cy="87.9" r="1.42"/><circle cx="437.6" cy="85.1" r="1.42"/><circle cx="467.3" cy="89.7" r="1.42"/><circle cx="469.1" cy="86.1" r="1.42"/><circle cx="496.8" cy="90.8" r="1.42"/><circle cx="499.5" cy="86.1" r="1.42"/><circle cx="537.3" cy="90.9" r="1.42"/><circle cx="307.1" cy="98.2" r="1.42"/><circle cx="338.4" cy="103.1" r="1.42"/><circle cx="342.0" cy="100.3" r="1.42"/><circle cx="349.3" cy="101.7" r="1.42"/><circle cx="352.0" cy="99.7" r="1.42"/><circle cx="364.7" cy="102.3" r="1.42"/><circle cx="367.1" cy="100.2" r="1.42"/><circle cx="374.7" cy="101.8" r="1.42"/><circle cx="378.0" cy="99.2" r="1.42"/><circle cx="396.8" cy="103.0" r="1.42"/><circle cx="401.7" cy="100.0" r="1.42"/><circle cx="416.9" cy="103.0" r="1.42"/><circle cx="421.8" cy="100.1" r="1.42"/><circle cx="455.0" cy="104.7" r="1.42"/><circle cx="457.4" cy="101.8" r="1.42"/><circle cx="486.8" cy="106.4" r="1.42"/><circle cx="489.3" cy="102.4" r="1.42"/><circle cx="537.3" cy="107.3" r="1.42"/><circle cx="310.6" cy="103.2" r="1.42"/><circle cx="332.4" cy="107.5" r="1.42"/><circle cx="335.5" cy="105.3" r="1.42"/><circle cx="342.5" cy="106.7" r="1.42"/><circle cx="345.2" cy="104.7" r="1.42"/><circle cx="358.1" cy="107.3" r="1.42"/><circle cx="360.7" cy="105.3" r="1.42"/><circle cx="367.8" cy="106.7" r="1.42"/><circle cx="371.4" cy="104.2" r="1.42"/><circle cx="389.3" cy="107.8" r="1.42"/><circle cx="393.2" cy="105.3" r="1.42"/><circle cx="408.7" cy="108.4" r="1.42"/><circle cx="411.8" cy="105.7" r="1.42"/><circle cx="450.1" cy="110.4" r="1.42"/><circle cx="452.5" cy="107.6" r="1.42"/><circle cx="482.5" cy="112.2" r="1.42"/><circle cx="483.7" cy="110.5" r="1.42"/><circle cx="537.3" cy="115.5" r="1.42"/><circle cx="313.7" cy="108.4" r="1.42"/><circle cx="326.9" cy="111.1" r="1.42"/><circle cx="329.8" cy="109.3" r="1.42"/><circle cx="336.7" cy="110.7" r="1.42"/><circle cx="339.4" cy="108.9" r="1.42"/><circle cx="352.3" cy="111.4" r="1.42"/><circle cx="354.7" cy="109.7" r="1.42"/><circle cx="362.2" cy="111.2" r="1.42"/><circle cx="364.4" cy="109.0" r="1.42"/><circle cx="382.3" cy="112.6" r="1.42"/><circle cx="386.2" cy="109.9" r="1.42"/><circle cx="403.3" cy="113.3" r="1.42"/><circle cx="406.4" cy="110.5" r="1.42"/><circle cx="446.5" cy="115.2" r="1.42"/><circle cx="448.9" cy="112.0" r="1.42"/><circle cx="479.3" cy="116.6" r="1.42"/><circle cx="481.7" cy="113.3" r="1.42"/><circle cx="537.3" cy="118.2" r="1.42"/><circle cx="317.1" cy="114.2" r="1.42"/><circle cx="319.8" cy="114.7" r="1.42"/><circle cx="321.7" cy="113.9" r="1.42"/><circle cx="330.2" cy="115.6" r="1.42"/><circle cx="332.3" cy="113.6" r="1.42"/><circle cx="345.3" cy="116.2" r="1.42"/><circle cx="347.9" cy="114.4" r="1.42"/><circle cx="356.7" cy="116.2" r="1.42"/><circle cx="359.3" cy="114.0" r="1.42"/><circle cx="376.7" cy="117.5" r="1.42"/><circle cx="379.9" cy="114.3" r="1.42"/><circle cx="398.9" cy="118.1" r="1.42"/><circle cx="402.0" cy="114.5" r="1.42"/><circle cx="443.5" cy="119.2" r="1.42"/><circle cx="446.0" cy="115.9" r="1.42"/><circle cx="476.6" cy="120.5" r="1.42"/><circle cx="479.6" cy="116.2" r="1.42"/><circle cx="537.3" cy="121.0" r="1.42"/><circle cx="326.3" cy="119.2" r="1.42"/><circle cx="328.0" cy="117.6" r="1.42"/><circle cx="339.9" cy="120.0" r="1.42"/><circle cx="342.6" cy="118.1" r="1.42"/><circle cx="352.7" cy="120.1" r="1.42"/><circle cx="355.3" cy="117.5" r="1.42"/><circle cx="372.7" cy="121.0" r="1.42"/><circle cx="376.5" cy="117.7" r="1.42"/><circle cx="396.0" cy="121.6" r="1.42"/><circle cx="399.1" cy="118.0" r="1.42"/><circle cx="440.9" cy="122.6" r="1.42"/><circle cx="443.7" cy="118.9" r="1.42"/><circle cx="474.7" cy="123.6" r="1.42"/><circle cx="476.9" cy="120.1" r="1.42"/><circle cx="521.3" cy="124.9" r="1.42"/><circle cx="522.0" cy="123.2" r="1.42"/><circle cx="537.3" cy="123.7" r="1.42"/><circle cx="323.9" cy="126.5" r="1.42"/><circle cx="329.0" cy="127.5" r="1.42"/><circle cx="330.7" cy="126.3" r="1.42"/><circle cx="341.4" cy="128.4" r="1.42"/><circle cx="344.8" cy="126.2" r="1.42"/><circle cx="367.0" cy="126.8" r="1.42"/><circle cx="388.2" cy="131.0" r="1.42"/><circle cx="390.7" cy="127.9" r="1.42"/><circle cx="434.0" cy="132.7" r="1.42"/><circle cx="436.1" cy="129.8" r="1.42"/><circle cx="467.5" cy="134.4" r="1.42"/><circle cx="469.8" cy="131.7" r="1.42"/><circle cx="513.6" cy="136.5" r="1.42"/><circle cx="517.1" cy="132.5" r="1.42"/><circle cx="537.3" cy="136.5" r="1.42"/><circle cx="335.3" cy="132.2" r="1.42"/><circle cx="355.5" cy="136.3" r="1.42"/><circle cx="359.3" cy="133.4" r="1.42"/><circle cx="381.6" cy="137.7" r="1.42"/><circle cx="384.6" cy="135.0" r="1.42"/><circle cx="430.8" cy="137.0" r="1.42"/><circle cx="461.5" cy="141.6" r="1.42"/><circle cx="463.8" cy="138.9" r="1.42"/><circle cx="506.6" cy="143.6" r="1.42"/><circle cx="510.9" cy="139.3" r="1.42"/><circle cx="537.3" cy="143.8" r="1.42"/><circle cx="327.9" cy="137.8" r="1.42"/><circle cx="348.2" cy="141.9" r="1.42"/><circle cx="352.2" cy="138.8" r="1.42"/><circle cx="375.1" cy="143.0" r="1.42"/><circle cx="378.8" cy="140.0" r="1.42"/><circle cx="423.1" cy="144.7" r="1.42"/><circle cx="425.8" cy="141.6" r="1.42"/><circle cx="456.8" cy="146.2" r="1.42"/><circle cx="459.9" cy="143.2" r="1.42"/><circle cx="502.7" cy="147.9" r="1.42"/><circle cx="506.5" cy="143.8" r="1.42"/><circle cx="537.3" cy="148.4" r="1.42"/><circle cx="105.7" cy="428.0" r="1.42"/><circle cx="537.3" cy="428.0" r="1.42"/><circle cx="314.3" cy="47.2" r="1.42"/><circle cx="336.4" cy="64.0" r="1.42"/><circle cx="323.6" cy="76.2" r="1.42"/><circle cx="331.4" cy="87.6" r="1.42"/><circle cx="513.1" cy="107.3" r="1.42"/><circle cx="519.5" cy="114.6" r="1.42"/><circle cx="507.6" cy="118.2" r="1.42"/><circle cx="492.1" cy="127.4" r="1.42"/><circle cx="447.4" cy="133.8" r="1.42"/><circle cx="489.0" cy="136.5" r="1.42"/><circle cx="440.1" cy="140.5" r="1.42"/><circle cx="479.9" cy="143.8" r="1.42"/><circle cx="478.0" cy="147.8" r="1.42"/><circle cx="471.1" cy="149.6" r="1.42"/><circle cx="434.6" cy="147.8" r="1.42"/><circle cx="515.8" cy="152.0" r="1.42"/><circle cx="522.2" cy="147.8" r="1.42"/><circle cx="526.8" cy="142.0" r="1.42"/><circle cx="525.5" cy="135.6" r="1.42"/><circle cx="423.6" cy="114.6" r="1.42"/><circle cx="430.9" cy="112.4" r="1.42"/><circle cx="422.7" cy="121.0" r="1.42"/><circle cx="422.9" cy="114.6" r="1.42"/><circle cx="416.1" cy="123.9" r="1.42"/><circle cx="406.8" cy="131.3" r="1.42"/><circle cx="399.4" cy="138.1" r="1.42"/><circle cx="393.9" cy="141.1" r="1.42"/><circle cx="386.5" cy="146.7" r="1.42"/><circle cx="407.1" cy="130.5" r="1.42"/><circle cx="405.0" cy="148.0" r="1.42"/><circle cx="332.1" cy="143.9" r="1.42"/></g><rect x="69.5" y="24.5" width="504.0" height="420.0" fill="none" stroke="#262626" stroke-width="1.2"/><line x1="105.65" y1="444.5" x2="105.65" y2="449.66" stroke="#262626" stroke-width="1.2"/><line x1="187.33" y1="444.5" x2="187.33" y2="449.66" stroke="#262626" stroke-width="1.2"/><line x1="269.01" y1="444.5" x2="269.01" y2="449.66" stroke="#262626" stroke-width="1.2"/><line x1="350.70" y1="444.5" x2="350.70" y2="449.66" stroke="#262626" stroke-width="1.2"/><line x1="432.38" y1="444.5" x2="432.38" y2="449.66" stroke="#262626" stroke-width="1.2"/><line x1="514.06" y1="444.5" x2="514.06" y2="449.66" stroke="#262626" stroke-width="1.2"/><line x1="64.34" y1="428.06" x2="69.5" y2="428.06" stroke="#262626" stroke-width="1.2"/><line x1="64.34" y1="346.67" x2="69.5" y2="346.67" stroke="#262626" stroke-width="1.2"/><line x1="64.34" y1="265.28" x2="69.5" y2="265.28" stroke="#262626" stroke-width="1.2"/><line x1="64.34" y1="183.89" x2="69.5" y2="183.89" stroke="#262626" stroke-width="1.2"/><line x1="64.34" y1="102.50" x2="69.5" y2="102.50" stroke="#262626" stroke-width="1.2"/><rect x="604.5" y="108.5" width="12.60" height="252.00" fill="url(#jet)"/><rect x="604.5" y="108.5" width="12.60" height="252.00" fill="none" stroke="#262626" stroke-width="1.2"/><line x1="617.1" y1="358.40" x2="622.26" y2="358.40" stroke="#262626" stroke-width="1.2"/><line x1="617.1" y1="307.80" x2="622.26" y2="307.80" stroke="#262626" stroke-width="1.2"/><line x1="617.1" y1="257.20" x2="622.26" y2="257.20" stroke="#262626" stroke-width="1.2"/><line x1="617.1" y1="206.60" x2="622.26" y2="206.60" stroke="#262626" stroke-width="1.2"/><line x1="617.1" y1="156.00" x2="622.26" y2="156.00" stroke="#262626" stroke-width="1.2"/></svg><svg width="685" height="487" viewBox="0 0 685 487" style="position:absolute;left:0;top:0;will-change:transform"><text id="x0" x="106.75" y="464.64" font-family="Liberation Sans, sans-serif" font-size="14.8" text-anchor="middle" textLength="8.73" lengthAdjust="spacingAndGlyphs" fill="#262626" stroke="#262626" stroke-width="0.3">0</text><text id="x1000" x="187.30" y="464.00" font-family="Liberation Sans, sans-serif" font-size="14.8" text-anchor="middle" textLength="34.73" lengthAdjust="spacingAndGlyphs" fill="#262626" stroke="#262626" stroke-width="0.3">1000</text><text id="x2000" x="268.89" y="463.93" font-family="Liberation Sans, sans-serif" font-size="14.8" text-anchor="middle" textLength="35.55" lengthAdjust="spacingAndGlyphs" fill="#262626" stroke="#262626" stroke-width="0.3">2000</text><text id="x3000" x="349.43" y="464.03" font-family="Liberation Sans, sans-serif" font-size="14.8" text-anchor="middle" textLength="34.36" lengthAdjust="spacingAndGlyphs" fill="#262626" stroke="#262626" stroke-width="0.3">3000</text><text id="x4000" x="432.63" y="464.02" font-family="Liberation Sans, sans-serif" font-size="14.8" text-anchor="middle" textLength="34.12" lengthAdjust="spacingAndGlyphs" fill="#262626" stroke="#262626" stroke-width="0.3">4000</text><text id="x5000" x="512.38" y="464.09" font-family="Liberation Sans, sans-serif" font-size="14.8" text-anchor="middle" textLength="34.96" lengthAdjust="spacingAndGlyphs" fill="#262626" stroke="#262626" stroke-width="0.3">5000</text><text id="y0" x="60.04" y="432.21" font-family="Liberation Sans, sans-serif" font-size="14.8" text-anchor="end" textLength="8.79" lengthAdjust="spacingAndGlyphs" fill="#262626" stroke="#262626" stroke-width="0.3">0</text><text id="y1000" x="58.09" y="351.55" font-family="Liberation Sans, sans-serif" font-size="14.8" text-anchor="end" textLength="34.43" lengthAdjust="spacingAndGlyphs" fill="#262626" stroke="#262626" stroke-width="0.3">1000</text><text id="y2000" x="58.76" y="269.88" font-family="Liberation Sans, sans-serif" font-size="14.8" text-anchor="end" textLength="35.57" lengthAdjust="spacingAndGlyphs" fill="#262626" stroke="#262626" stroke-width="0.3">2000</text><text id="y3000" x="57.80" y="188.62" font-family="Liberation Sans, sans-serif" font-size="14.8" text-anchor="end" textLength="34.25" lengthAdjust="spacingAndGlyphs" fill="#262626" stroke="#262626" stroke-width="0.3">3000</text><text id="y4000" x="58.18" y="106.42" font-family="Liberation Sans, sans-serif" font-size="14.8" text-anchor="end" textLength="34.56" lengthAdjust="spacingAndGlyphs" fill="#262626" stroke="#262626" stroke-width="0.3">4000</text><text id="title" x="320.38" y="14.60" font-family="Liberation Sans, sans-serif" font-size="18.9" text-anchor="middle" textLength="341.59" lengthAdjust="spacingAndGlyphs" fill="#262626" stroke="#262626" stroke-width="0.3">Model P-Wave Velocity Distribution Map</text><text id="xlabel" x="321.10" y="485.17" font-family="Liberation Sans, sans-serif" font-size="14.8" text-anchor="middle" textLength="43.32" lengthAdjust="spacingAndGlyphs" fill="#262626" stroke="#262626" stroke-width="0.3">X axis</text><text id="ylabel" transform="translate(12.60,235.01) rotate(-90)" x="0" y="0" font-family="Liberation Sans, sans-serif" font-size="14.8" text-anchor="middle" textLength="41.13" lengthAdjust="spacingAndGlyphs" fill="#262626" stroke="#262626" stroke-width="0.3">Y axis</text><text id="c1000" x="628.41" y="364.02" font-family="Liberation Sans, sans-serif" font-size="14.8" text-anchor="start" textLength="34.02" lengthAdjust="spacingAndGlyphs" fill="#262626" stroke="#262626" stroke-width="0.3">1000</text><text id="c1500" x="628.41" y="312.45" font-family="Liberation Sans, sans-serif" font-size="14.8" text-anchor="start" textLength="34.02" lengthAdjust="spacingAndGlyphs" fill="#262626" stroke="#262626" stroke-width="0.3">1500</text><text id="c2000" x="627.09" y="261.97" font-family="Liberation Sans, sans-serif" font-size="14.8" text-anchor="start" textLength="35.37" lengthAdjust="spacingAndGlyphs" fill="#262626" stroke="#262626" stroke-width="0.3">2000</text><text id="c2500" x="627.21" y="211.85" font-family="Liberation Sans, sans-serif" font-size="14.8" text-anchor="start" textLength="35.25" lengthAdjust="spacingAndGlyphs" fill="#262626" stroke="#262626" stroke-width="0.3">2500</text><text id="c3000" x="627.26" y="160.49" font-family="Liberation Sans, sans-serif" font-size="14.8" text-anchor="start" textLength="34.29" lengthAdjust="spacingAndGlyphs" fill="#262626" stroke="#262626" stroke-width="0.3">3000</text><text id="speed" transform="translate(680.41,235.04) rotate(-90)" x="0" y="0" font-family="Liberation Sans, sans-serif" font-size="14.8" text-anchor="middle" textLength="42.74" lengthAdjust="spacingAndGlyphs" fill="#262626" stroke="#262626" stroke-width="0.3">Speed</text></svg></body></html>
